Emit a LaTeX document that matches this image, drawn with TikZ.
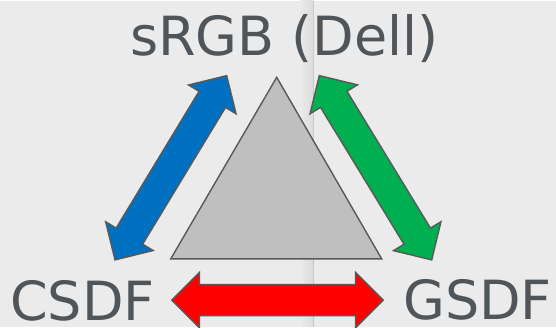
\documentclass[tikz,border=0pt]{standalone}
\usepackage{fontspec}
\setmainfont{DejaVu Sans}
\definecolor{bgc}{RGB}{235,235,235}
\definecolor{txtc}{RGB}{80,85,89}
\definecolor{edgec}{RGB}{89,89,89}
\definecolor{trifill}{RGB}{191,191,191}
\definecolor{bluec}{RGB}{0,112,192}
\definecolor{greenc}{RGB}{0,176,80}
\definecolor{redc}{RGB}{255,0,0}
\definecolor{foldc}{RGB}{200,200,200}
\tikzset{
  arrowline/.style={draw=edgec, line width=1.4pt, line join=miter},
  lbl/.style={text=txtc, font=\fontsize{54}{60}\selectfont, inner sep=0pt, text depth=0pt},
  dblarrow/.pic={
    \path[arrowline, pic actions] (0,0) -- (27.8,27.8) -- (27.8,15.5) -- ({#1-27.8},15.5) -- ({#1-27.8},27.8) -- (#1,0) -- ({#1-27.8},-27.8) -- ({#1-27.8},-15.5) -- (27.8,-15.5) -- (27.8,-27.8) -- cycle;
  }
}
\begin{document}
\begin{tikzpicture}[x=1pt,y=1pt]
  % background
  \fill[bgc] (0,0) rectangle (556,-326);
  \shade[left color=bgc, right color=black!14] (300,0) rectangle (313,-326);
  \draw[foldc, line width=1.2pt] (313.5,0) -- (313.5,-326);
  \useasboundingbox (0,0) rectangle (556,-326);

  % triangle
  \draw[fill=trifill, draw=edgec, line width=1.4pt, line join=miter] (276.7,-76.7) -- (381.7,-258.3) -- (170.7,-258.3) -- cycle;

  % arrows
  \pic[fill=bluec] at (115,-259.3) [rotate=58.78] {dblarrow=215.5};
  \pic[fill=greenc] at (431.7,-259.3) [rotate=121.38] {dblarrow=215.9};
  \pic[fill=redc] at (171.7,-299.5) {dblarrow=211.6};

  % labels
  \node[lbl, anchor=base] (srgb) at (284.5,-55) {sRGB (Dell)};
  \node[lbl, anchor=base west] (csdf) at (10,-320) {CSDF};
  \node[lbl, anchor=base west] (gsdf) at (403,-319) {GSDF};
\end{tikzpicture}
\end{document}
